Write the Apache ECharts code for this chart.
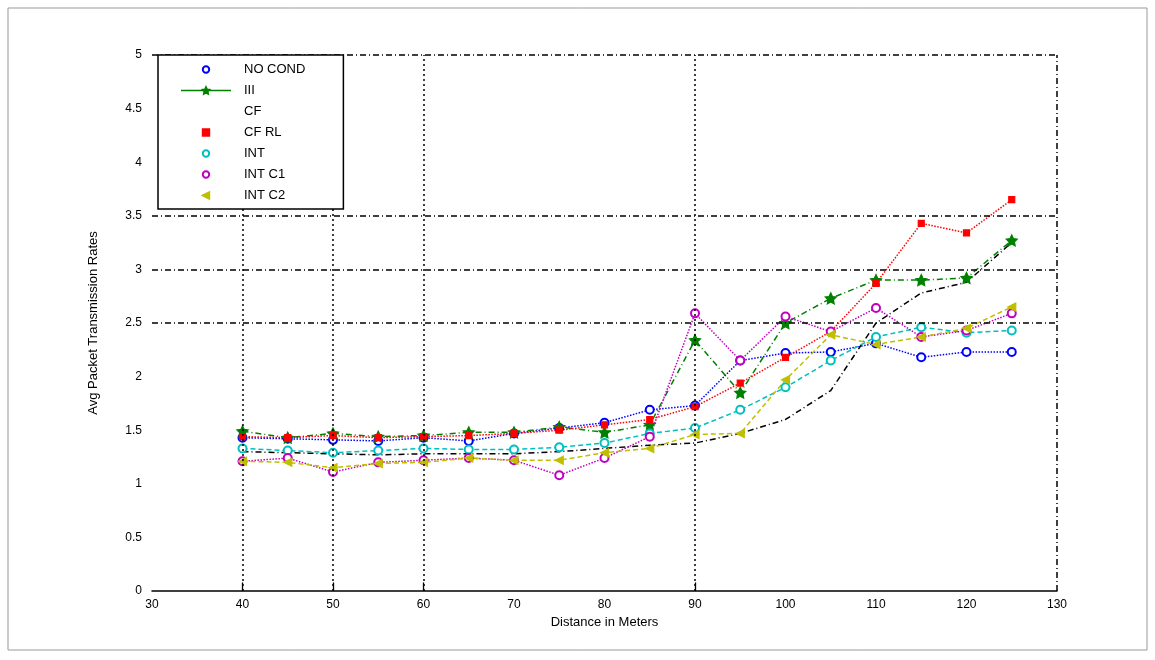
<!DOCTYPE html>
<html>
<head>
<meta charset="utf-8">
<script src="https://cdn.jsdelivr.net/npm/echarts@6/dist/echarts.min.js"></script>
<style>html,body{margin:0;padding:0;background:#fff}#c{width:1155px;height:660px}</style>
</head>
<body>
<div id="c"></div>
<script>
const distances = [40,45,50,55,60,65,70,75,80,85,90,95,100,105,110,115,120,125];
const seriesNames = ['NO COND','III','CF','CF RL','INT','INT C1','INT C2'];
const noCond = [1.43,1.42,1.41,1.40,1.43,1.40,1.47,1.52,1.57,1.69,1.73,2.15,2.22,2.23,2.31,2.18,2.23,2.23];
const iii    = [1.49,1.43,1.47,1.44,1.45,1.48,1.48,1.53,1.48,1.55,2.34,1.85,2.50,2.73,2.90,2.90,2.92,3.27];
const cf     = [1.30,1.29,1.28,1.27,1.28,1.28,1.28,1.30,1.33,1.36,1.38,1.47,1.60,1.87,2.50,2.78,2.88,3.25];
const cfRl   = [1.44,1.43,1.45,1.43,1.44,1.45,1.47,1.50,1.55,1.60,1.72,1.94,2.18,2.42,2.87,3.43,3.34,3.65];
const intS   = [1.33,1.31,1.29,1.31,1.33,1.32,1.32,1.34,1.38,1.47,1.52,1.69,1.90,2.15,2.37,2.46,2.41,2.43];
const intC1  = [1.21,1.24,1.11,1.20,1.22,1.24,1.22,1.08,1.24,1.44,2.59,2.15,2.56,2.42,2.64,2.37,2.43,2.59];
const intC2  = [1.21,1.20,1.15,1.19,1.20,1.24,1.22,1.22,1.29,1.33,1.46,1.47,1.97,2.39,2.30,2.37,2.45,2.65];
const xTicks = [30,40,50,60,70,80,90,100,110,120,130];
const yTicks = [0,0.5,1,1.5,2,2.5,3,3.5,4,4.5,5];
const xGridAt = [40,50,60,90];
const yGridAt = [2.5,3,3.5];

const values = [noCond, iii, cf, cfRl, intS, intC1, intC2];
const colors = ['#0000ff','#008000','#000000','#ff0000','#00bfbf','#bf00bf','#bfbf00'];
const lineTypes = ['dotted',[6,3,1,3],[6,3,1,3],'dotted',[5,3],'dotted',[5,3]];
const symbols = ['emptyCircle','path://M0,-10L2.9,-4L9.5,-3.1L4.7,1.5L5.9,8.1L0,5L-5.9,8.1L-4.7,1.5L-9.5,-3.1L-2.9,-4Z','none','rect','emptyCircle','emptyCircle','triangle'];
const symRot = [0,0,0,0,0,0,90];
const symSizes = [8,11,0,6,8,8,8];

const font = 'Liberation Sans, Arial, sans-serif';
const series = seriesNames.map((n,i)=>({
  name:n, type:'line', z:3,
  data: distances.map((d,j)=>[d, values[i][j]]),
  symbol: symbols[i], symbolSize: symSizes[i], symbolRotate: symRot[i],
  showSymbol: symbols[i] !== 'none',
  lineStyle:{color:colors[i], width:1.5, type:lineTypes[i]},
  itemStyle:{color:colors[i], borderColor:colors[i], borderWidth:1.2},
  emphasis:{disabled:true}, animation:false
}));

const gridLines = [];
xGridAt.forEach(v=>gridLines.push({xAxis:v, lineStyle:{type:[2,3], color:'#000', width:1.5}}));
yGridAt.forEach(v=>gridLines.push({yAxis:v, lineStyle:{type:[6,3,1,3], color:'#000', width:1.5}}));
gridLines.push({yAxis:5, lineStyle:{type:[6,3,1,3], color:'#000', width:1.5}});
gridLines.push({xAxis:130, lineStyle:{type:[6,3,1,3], color:'#000', width:1.5}});
const tickLines = xGridAt.map(v=>[{coord:[v,0]},{coord:[v,0.08]}]);

series.push({
  name:'_grid', type:'line', data:[], z:1, silent:true, animation:false,
  markLine:{silent:true, symbol:['none','none'], label:{show:false}, animation:false,
    data: gridLines.concat(tickLines.map(t=>[Object.assign({lineStyle:{type:'solid',color:'#000',width:1.3}},t[0]), t[1]]))}
});

const legendData = seriesNames.map((n,i)=>({
  name:n,
  lineStyle: i===1 ? {width:1.5, type:'solid', color:colors[i]} : {opacity:0},
  itemStyle: i===2 ? {opacity:0} : {}
}));

const chart = echarts.init(document.getElementById('c'));
chart.setOption({
  backgroundColor:'#fff',
  animation:false,
  grid:{left:152, right:98, top:55, bottom:69},
  xAxis:{type:'value', min:30, max:130, interval:10,
    name:'Distance in Meters', nameLocation:'middle', nameGap:24,
    nameTextStyle:{fontFamily:font, fontSize:13, color:'#000'},
    axisLine:{show:true, lineStyle:{color:'#000', width:1.5}},
    axisTick:{show:false}, splitLine:{show:false},
    axisLabel:{fontFamily:font, fontSize:12, color:'#000', margin:8,
      formatter:v=>xTicks.includes(v)?String(v):''}},
  yAxis:{type:'value', min:0, max:5, interval:0.5,
    name:'Avg Packet Transmission Rates', nameLocation:'middle', nameGap:52,
    nameTextStyle:{fontFamily:font, fontSize:13, color:'#000'},
    axisLine:{show:false}, axisTick:{show:false}, splitLine:{show:false},
    axisLabel:{fontFamily:font, fontSize:12, color:'#000', margin:10,
      formatter:v=>yTicks.includes(v)?String(v):''}},
  legend:{
    data: legendData, orient:'vertical', left:158, top:55,
    padding:[8,38,7,22], itemGap:8, itemWidth:50, itemHeight:8,
    backgroundColor:'#fff', borderColor:'#000', borderWidth:1.5,
    textStyle:{fontFamily:font, fontSize:13, color:'#000', padding:[0,0,0,8], lineHeight:13},
    selectedMode:false, z:10
  },
  graphic:[{type:'rect', shape:{x:8,y:8,width:1139,height:642}, style:{fill:null, stroke:'#999', lineWidth:1}, silent:true}],
  series: series
});
</script>
</body>
</html>
